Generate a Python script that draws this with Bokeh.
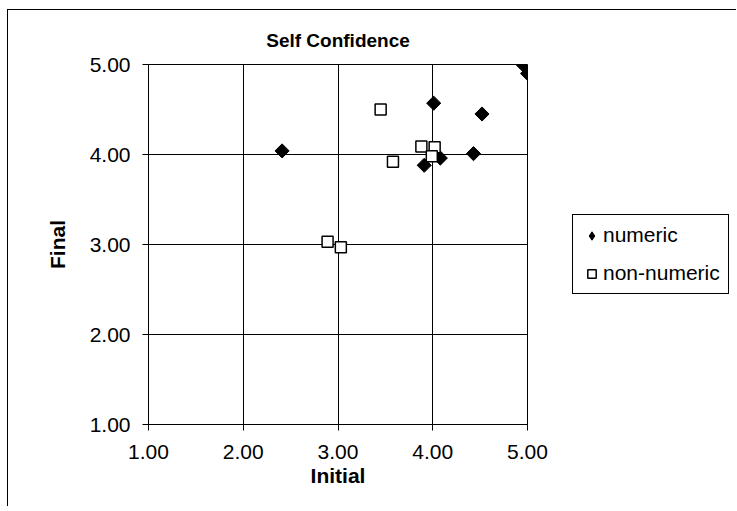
import math
from bokeh.plotting import figure
from bokeh.layouts import row
from bokeh.models import ColumnDataSource, Legend, LegendItem, FixedTicker, NumeralTickFormatter, Range1d
from bokeh.embed import file_html
from bokeh.resources import INLINE

# data
numeric_initial = [4.96, 5.00, 4.01, 4.52, 2.41, 4.43, 4.08, 3.91]
numeric_final = [4.99, 4.90, 4.57, 4.45, 4.04, 4.01, 3.96, 3.88]
nonnum_initial = [3.45, 3.58, 3.88, 4.02, 3.99, 2.89, 3.03]
nonnum_final = [4.50, 3.92, 4.09, 4.08, 3.98, 3.03, 2.97]
ticks = [1, 2, 3, 4, 5]
series_labels = ["numeric", "non-numeric"]

FONT = "Liberation Sans"

p = figure(width=540, height=496, output_backend="svg", toolbar_location=None,
           x_range=Range1d(1, 5), y_range=Range1d(1, 5),
           min_border_left=140, min_border_right=21, min_border_top=54, min_border_bottom=82)

p.title.text = "Self Confidence"
p.title.align = "center"
p.title.text_font = FONT
p.title.text_font_size = "19px"
p.title.text_font_style = "bold"
p.title.text_color = "black"
p.title.standoff = 28

for ax in (p.xaxis[0], p.yaxis[0]):
    ax.ticker = FixedTicker(ticks=ticks)
    ax.formatter = NumeralTickFormatter(format="0.00")
    ax.major_label_text_font = FONT
    ax.major_label_text_font_size = "21px"
    ax.major_label_text_color = "black"
    ax.axis_label_text_font = FONT
    ax.axis_label_text_font_size = "21px"
    ax.axis_label_text_font_style = "bold"
    ax.axis_label_text_color = "black"
    ax.axis_line_color = "black"
    ax.major_tick_line_color = "black"
    ax.major_tick_in = 0
    ax.major_tick_out = 6
    ax.minor_tick_line_color = None

p.xaxis.axis_label = "Initial"
p.yaxis.axis_label = "Final"
p.xaxis.axis_label_standoff = 2
p.yaxis.axis_label_standoff = 18
p.xaxis.major_label_standoff = 14
p.yaxis.major_label_standoff = 12

p.grid.grid_line_color = "black"
p.grid.grid_line_alpha = 1
p.grid.ticker = FixedTicker(ticks=ticks)
p.outline_line_color = "black"

src_n = ColumnDataSource(dict(x=numeric_initial, y=numeric_final))
src_o = ColumnDataSource(dict(x=nonnum_initial, y=nonnum_final))

p.scatter("x", "y", source=src_n, marker="square", angle=math.pi / 4, size=10,
          fill_color="black", line_color="black")
p.scatter("x", "y", source=src_o, marker="square", size=11,
          fill_color="white", line_color="black", line_width=1.5)

# legend panel (its ranges exclude the data, so only the legend shows)
lf = figure(width=188, height=496, output_backend="svg", toolbar_location=None,
            x_range=Range1d(-2, -1), y_range=Range1d(-2, -1),
            x_axis_location=None, y_axis_location=None, min_border=0)
lf.outline_line_color = None
lf.grid.visible = False
lr1 = lf.scatter("x", "y", source=src_n, marker="diamond", size=16,
                 fill_color="black", line_color="black")
lr2 = lf.scatter("x", "y", source=src_o, marker="square", size=11, fill_color="white",
                 line_color="black", line_width=1.5)

legend = Legend(items=[LegendItem(label=series_labels[0], renderers=[lr1]),
                       LegendItem(label=series_labels[1], renderers=[lr2])],
                location=(24, 130), orientation="vertical")
legend.label_text_font = FONT
legend.label_text_font_size = "21px"
legend.label_text_color = "black"
legend.border_line_color = "black"
legend.border_line_width = 1
legend.border_line_alpha = 1
legend.background_fill_color = "white"
legend.background_fill_alpha = 1
legend.padding = 8
legend.spacing = 14
legend.glyph_width = 21
legend.glyph_height = 21
legend.label_standoff = 1
legend.margin = 0
lf.add_layout(legend, "center")

layout = row(p, lf, styles={"border-top": "1px solid black", "border-left": "1px solid black",
                            "margin-left": "7px", "margin-top": "9px"})

open("out.html", "w").write(file_html(layout, INLINE))
